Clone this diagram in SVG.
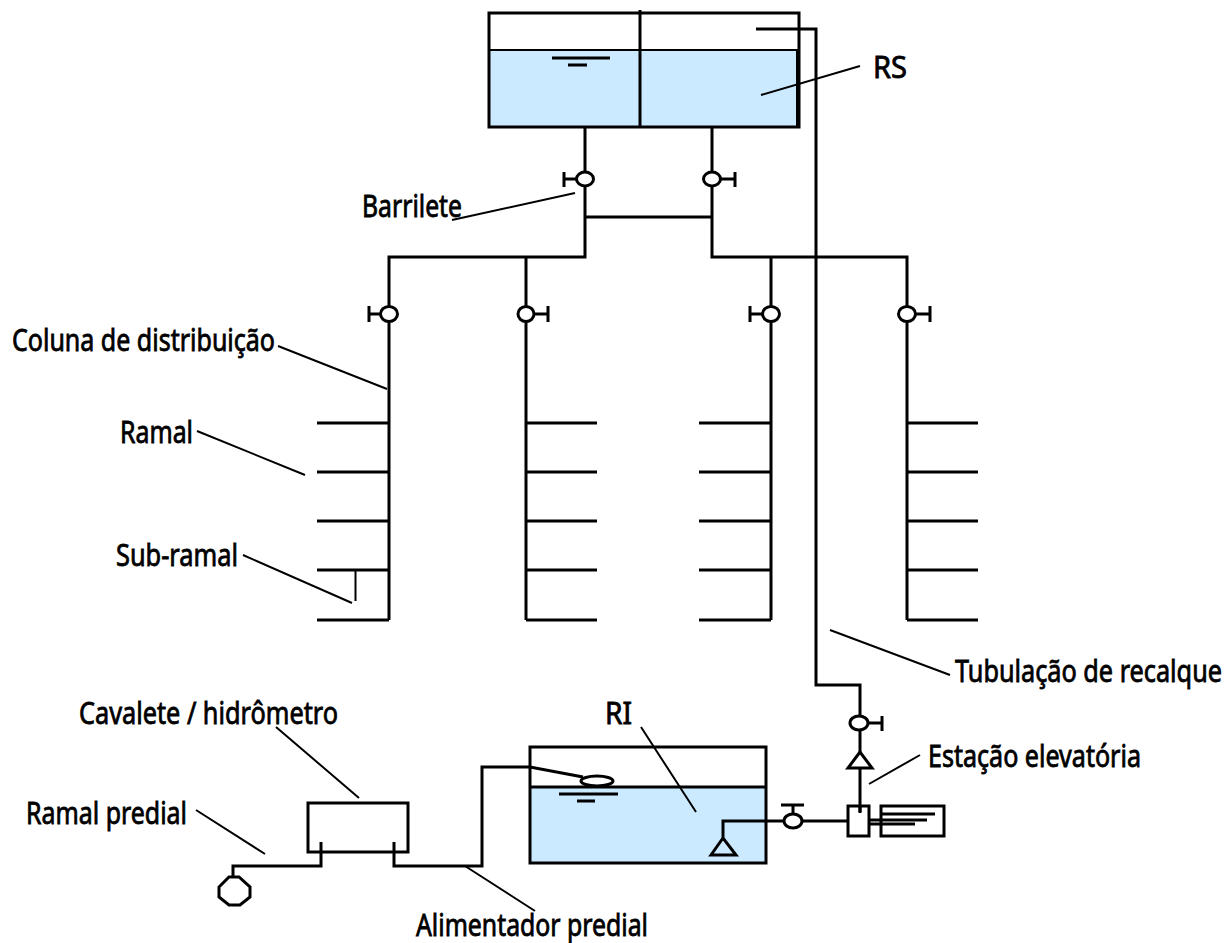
<svg xmlns="http://www.w3.org/2000/svg" width="1230" height="943" viewBox="0 0 1230 943">
<style>
.p{fill:none;stroke:#000;stroke-width:3;stroke-linejoin:miter}
.t{fill:none;stroke:#000;stroke-width:2}
.v{fill:#fff;stroke:#000;stroke-width:3}
.w{fill:#cbeaff;stroke:none}
text{font-family:"Noto Sans","Liberation Sans",sans-serif;font-size:30px;fill:#000;stroke:#000;stroke-width:.8}
</style>
<rect width="1230" height="943" fill="#fff"/>
<g id="rs">
<rect class="w" x="489" y="50" width="310" height="77"/>
<rect class="p" x="489" y="13" width="310" height="114"/>
<path class="p" d="M797.500 50V127" stroke-width="4"/>
<path class="p" d="M640 10V127"/>
<path class="t" d="M489 50H799"/>
<path class="p" d="M552 58H610M568 65H587"/>
</g>
<g id="ri">
<rect class="w" x="530" y="787" width="236" height="76"/>
<rect class="p" x="530" y="747" width="236" height="116"/>
<path class="p" d="M530 787H766M559 794H618M577 801H595"/>
</g>
<g id="connectors">
<path class="p" d="M756 29H816V685H860V812"/>
<path class="p" d="M585 127V257H389V620M712 127V257H907V620M585 217H712M526 257V620M771 257V620"/>
<path class="p" d="M317 423H389M317 472H389M317 521H389M317 570H389M317 620H389"/>
<path class="p" d="M526 423H597M526 472H597M526 521H597M526 570H597M526 620H597"/>
<path class="p" d="M699 423H771M699 472H771M699 521H771M699 570H771M699 620H771"/>
<path class="p" d="M907 423H978M907 472H978M907 521H978M907 570H978M907 620H978"/>
<path class="t" d="M355.500 570V601"/>
<path class="p" d="M233 878V866H321V842M394 842V866H482V767H530L583 777"/>
<path class="p" d="M711 855L723 838L736 855ZM723 838V821H793M802 821H848"/>
</g>
<g id="valves">
<path class="p" d="M563 179H578M564 172V187M720 179H735M735 172V187M368 314H381M369 306V322M534 314H548M548 306V322M749 314H763M750 306V322M915 314H930M930 306V322M868 723H882M882 716V731"/>
<ellipse class="v" cx="585" cy="179" rx="8.500" ry="7"/>
<ellipse class="v" cx="712" cy="179" rx="8.500" ry="7"/>
<ellipse class="v" cx="389" cy="314" rx="8.500" ry="7.500"/>
<ellipse class="v" cx="526" cy="314" rx="8" ry="7.500"/>
<ellipse class="v" cx="771" cy="314" rx="8.500" ry="7.500"/>
<ellipse class="v" cx="907" cy="314" rx="8.500" ry="7.500"/>
<ellipse class="v" cx="859" cy="723" rx="9" ry="7"/>
<path class="v" d="M860 752L848 768H872Z"/>
<ellipse class="v" cx="597" cy="781" rx="16" ry="5"/>
</g>
<g id="bomba">
<path class="p" d="M793 814V805M781 805H804"/>
<ellipse class="v" cx="793" cy="821" rx="9" ry="7"/>
<rect class="p" x="848" y="806" width="21" height="30"/>
<path class="p" d="M860 806V813"/>
<rect class="p" x="881" y="806" width="63" height="30"/>
<path class="p" d="M882 814H935M870 820H927M870 824H915"/>
</g>
<g id="cavalete">
<path class="p" d="M308 803H408V852H308Z"/>
<path class="v" d="M229 877H239L250 887V897L240 905H229L219 897V887Z"/>
</g>
<g id="leaders">
<path class="t" d="M860 66L761 95M575 193L452 220M278 346L387 389M197 431L305 475M243 555L352 603M830 630L950 675M920 755L869 784M641 727L696 812M276 727L359 798M196 810L265 854M465 866L535 911"/>
</g>
<g id="labels">
<text x="873" y="78" textLength="34" lengthAdjust="spacingAndGlyphs">RS</text>
<text x="362" y="217" textLength="100" lengthAdjust="spacingAndGlyphs">Barrilete</text>
<text x="12" y="351" textLength="263" lengthAdjust="spacingAndGlyphs">Coluna de distribuição</text>
<text x="120" y="443" textLength="73" lengthAdjust="spacingAndGlyphs">Ramal</text>
<text x="116" y="566" textLength="122" lengthAdjust="spacingAndGlyphs">Sub-ramal</text>
<text x="955" y="682" textLength="267" lengthAdjust="spacingAndGlyphs">Tubulação de recalque</text>
<text x="928" y="767" textLength="213" lengthAdjust="spacingAndGlyphs">Estação elevatória</text>
<text x="605" y="724" textLength="27" lengthAdjust="spacingAndGlyphs">RI</text>
<text x="79" y="724" textLength="259" lengthAdjust="spacingAndGlyphs">Cavalete / hidrômetro</text>
<text x="26" y="824" textLength="161" lengthAdjust="spacingAndGlyphs">Ramal predial</text>
<text x="416" y="936" textLength="232" lengthAdjust="spacingAndGlyphs">Alimentador predial</text>
</g>
</svg>
